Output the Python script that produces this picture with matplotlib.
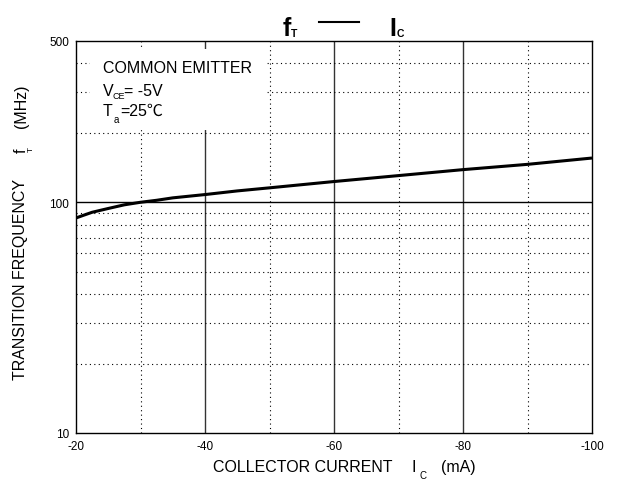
import matplotlib
matplotlib.use("Agg")
import matplotlib.pyplot as plt
from matplotlib.patches import Rectangle
from matplotlib.lines import Line2D

# ---- data ----
ic_ma = [-20, -21, -22.5, -25, -27.5, -30, -32.5, -35, -40, -45, -50, -60, -70, -80, -90, -100]
ft_mhz = [85.5, 87.5, 90.5, 94.0, 97.5, 100.0, 102.0, 104.5, 108.0, 112.0, 115.5, 123.0, 130.5, 138.5, 146.0, 155.5]

x_ticks = [-20, -40, -60, -80, -100]
x_tick_labels = ["-20", "-40", "-60", "-80", "-100"]
y_ticks = [10, 100, 500]
y_tick_labels = ["10", "100", "500"]
solid_x = [-40, -60, -80]
dotted_x = [-30, -50, -70, -90]
solid_y = [100]
dotted_y = [20, 30, 40, 50, 60, 70, 80, 90, 200, 300, 400]

plt.rcParams['font.family'] = ['Liberation Sans', 'DejaVu Sans']

W, H = 621, 481
fig = plt.figure(figsize=(W / 100, H / 100), dpi=100)
L, R, T, B = 76, 592, 42, 434
ax = fig.add_axes([L / W, (H - B) / H, (R - L) / W, (B - T) / H])

ax.set_yscale('log')
ax.set_xlim(-20, -100)
ax.set_ylim(10, 500)
ax.set_xticks(x_ticks)
ax.set_xticklabels(x_tick_labels)
ax.set_yticks(y_ticks)
ax.set_yticklabels(y_tick_labels)
ax.minorticks_off()
ax.tick_params(axis='both', length=0, labelsize=8.5)
ax.tick_params(axis='x', pad=5)
ax.tick_params(axis='y', pad=5)
for sp in ax.spines.values():
    sp.set_linewidth(1.0)
    sp.set_color('black')
    sp.set_zorder(5)

dot = (0, (1, 3))
for xv in solid_x:
    ax.axvline(xv, color='#333333', lw=1.0, zorder=1)
for xv in dotted_x:
    ax.axvline(xv, color='black', lw=0.8, ls=dot, zorder=1)
for yv in solid_y:
    ax.axhline(yv, color='black', lw=1.0, zorder=1)
for yv in dotted_y:
    ax.axhline(yv, color='black', lw=0.8, ls=dot, zorder=1)

# white background behind the annotation block
bx0, by0, bx1, by1 = 90, 50, 266, 131
ax.add_patch(Rectangle((bx0 / W, 1 - by1 / H), (bx1 - bx0) / W, (by1 - by0) / H,
                       transform=fig.transFigure, facecolor='white', edgecolor='none',
                       zorder=2, clip_on=False))

ax.plot(ic_ma, ft_mhz, color='black', lw=2.2, zorder=3, solid_capstyle='butt')


def ftxt(x, y, s, size, **kw):
    kw.setdefault('ha', 'left')
    kw.setdefault('va', 'baseline')
    return fig.text(x / W, 1 - y / H, s, fontsize=size, **kw)


# annotation block
ftxt(103, 72.7, "COMMON EMITTER", 11.5, zorder=6)
ftxt(103, 96, "V", 11.5, zorder=6)
ftxt(112.5, 99, "CE", 6.5, zorder=6)
ftxt(124.5, 96, "= -5V", 11.5, zorder=6)
ftxt(103, 115.7, "T", 11.5, zorder=6)
ftxt(113.5, 123, "a", 7, zorder=6)
ftxt(120.5, 115.7, "=25℃", 11.5, zorder=6, family=['Liberation Sans', 'Noto Sans CJK SC'])

# title
ftxt(283, 36, "f", 18, fontweight='bold')
ftxt(290.5, 36.7, "T", 7.5, fontweight='bold')
fig.add_artist(Line2D([319 / W, 359.3 / W], [1 - 22.7 / H, 1 - 22.7 / H],
                      transform=fig.transFigure, color='black', lw=1.5))
ftxt(389.5, 36, "I", 18, fontweight='bold')
ftxt(396.5, 36.7, "C", 7.5, fontweight='bold')

# x label
ftxt(213, 471.7, "COLLECTOR CURRENT", 11.5)
ftxt(411.5, 471.7, "I", 11.5)
ftxt(419, 479.5, "C", 7)
ftxt(441, 471.7, "(mA)", 11.5)

# y label (rotated)
def ytxt(x, y, s, size):
    return fig.text(x / W, 1 - y / H, s, fontsize=size, rotation=90,
                    rotation_mode='anchor', ha='left', va='baseline')

ytxt(25.5, 380, "TRANSITION FREQUENCY", 11.5)
ytxt(25.5, 153, "f", 11.5)
ytxt(32.5, 152, "T", 6)
ytxt(25.5, 128, "(MHz)", 11.5)

fig.savefig("out.png", dpi=100)
